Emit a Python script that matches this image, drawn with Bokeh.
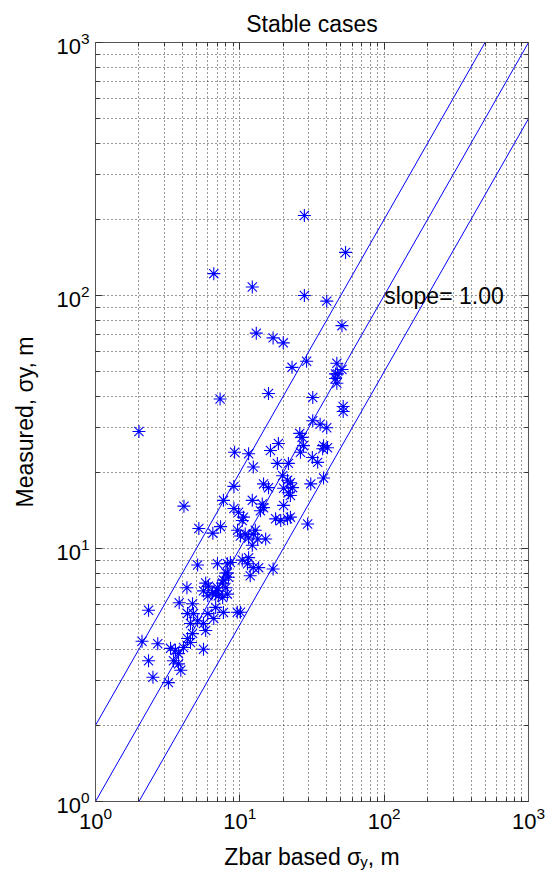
from bokeh.plotting import figure
from bokeh.layouts import column
from bokeh.models import LogAxis, FixedTicker, Label, Range1d
from bokeh.embed import file_html
from bokeh.resources import INLINE

# ---------------- data ----------------
zbar_sigma = [28, 54, 6.6, 12.2, 28, 40, 51, 13, 17, 20, 29, 23, 47, 46, 46, 47,
              15.8, 32, 7.3, 52, 52, 2.0, 32, 36, 40, 26, 27, 9.2, 11.5, 12.4,
              16.3, 18.5, 27.6, 26.3, 31.8, 34.6, 38, 40.5, 37.5, 31, 38, 18.2,
              21.7, 19.8, 21.4, 22.4, 23.2, 21.7, 20.1, 22.4, 15.8, 14.6, 12.2,
              14.3, 14.6, 13.9, 20.1, 9.1, 7.7, 4.1, 17.7, 19.2, 21.4, 22.4, 29.5,
              9.8, 10.6, 10.4, 9.1, 5.2, 6.5, 7.35, 9.64, 10.1, 10.9, 11.5, 12.4,
              12.8, 12.2, 15.1, 13.3, 5.1, 7.0, 8.2, 8.6, 8.2, 8.35, 7.7, 10.4,
              11.3, 11.5, 12.4, 13.5, 11.8, 17, 4.3, 3.8, 4.7, 2.33, 5.8, 6.06,
              5.6, 6.47, 6.8, 6.0, 7.0, 7.6, 7.1, 8.0, 9.6, 2.1, 2.7, 2.33, 2.5,
              3.2, 3.31, 3.58, 3.76, 3.47, 3.9, 3.76, 4.07, 4.34, 4.7, 4.55, 4.55,
              4.34, 4.77, 5.1, 5.6, 5.8, 5.6, 6.0, 6.6, 6.8, 7.7, 7.6, 7.0, 8.2,
              10.1, 8.0, 51, 47.5]
measured_sigma = [207, 148, 122, 108, 100, 95, 76, 71, 68, 65, 55, 52, 54, 49, 47, 45,
                  41, 39.5, 39, 36.4, 34.8, 29, 32, 31, 30, 28.5, 27.5, 24, 23.7, 21,
                  24.4, 26, 25.5, 24, 22.9, 21.9, 25.5, 25, 24.8, 18, 19, 21.7,
                  21.7, 19.4, 18.6, 18.2, 17.4, 16.6, 17.3, 16.2, 17.4, 18, 15.5,
                  15.0, 14.5, 14.1, 14.8, 17.6, 15.5, 14.7, 13.1, 12.9, 13.1, 13.3, 12.5,
                  13.9, 13.3, 12.9, 14.4, 12, 11.5, 12.2, 11.8, 11.2, 11.4, 11.0, 11.4,
                  11.8, 10.3, 10.9, 10.9, 8.6, 8.7, 8.7, 8.8, 8.0, 7.7, 7.5, 9.0,
                  8.7, 9.2, 8.4, 8.4, 7.8, 8.3, 7.0, 6.1, 6.05, 5.7, 7.3, 7.1,
                  6.8, 6.7, 6.6, 6.5, 7.0, 7.3, 6.5, 8.0, 5.6, 4.3, 4.2, 3.6, 3.1,
                  2.95, 4.03, 3.96, 3.84, 3.6, 3.3, 3.5, 4.06, 4.41, 4.61, 4.25, 5.05,
                  5.53, 5.53, 5.18, 5.05, 4.74, 4.0, 5.53, 5.29, 5.85, 5.59, 6.4, 6.8, 6.6,
                  5.6, 7.0, 51, 49]

ratio_lines = [2.0, 1.0, 0.5]          # measured = ratio * zbar
line_x = [1, 1000]
major_ticks = [1, 10, 100, 1000]
slope_text = "slope= 1.00"
slope_pos = (100, 100)
title_text = "Stable cases"
xlabel_parts = ["Zbar based σ", "y", ", m"]
ylabel_text = "Measured, σy, m"

# ---------------- layout ----------------
W, H = 545, 876
XLH = 35                 # x-label strip height
MH = H - XLH             # main figure height
FL, FR, FT, FB = 95, 528, 42, 801     # frame edges in page px
FONT = "Liberation Sans"
FS = 23
SUB = 15

p = figure(width=W, height=MH, x_axis_type="log", y_axis_type="log",
           x_range=Range1d(1, 1000), y_range=Range1d(1, 1000),
           output_backend="svg", toolbar_location=None,
           min_border_left=FL, min_border_right=W - FR,
           min_border_top=FT, min_border_bottom=MH - FB)
p.background_fill_color = "white"
p.border_fill_color = "white"
p.outline_line_color = None
p.title.text = title_text
p.title.align = "center"
p.title.text_font = FONT
p.title.text_font_size = f"{FS}px"
p.title.text_font_style = "normal"
p.title.text_color = "black"
p.title.standoff = 11

p.add_layout(LogAxis(), "above")
p.add_layout(LogAxis(), "right")

minor = [m * 10 ** k for k in range(3) for m in range(2, 10)]
ticker = FixedTicker(ticks=major_ticks, minor_ticks=minor)

for ax in p.axis:
    ax.ticker = ticker
    ax.major_tick_in = 7
    ax.major_tick_out = 0
    ax.minor_tick_in = 4
    ax.minor_tick_out = 0
    ax.axis_line_color = "#555555"
    ax.axis_line_width = 1
    ax.major_tick_line_color = "#333333"
    ax.minor_tick_line_color = "#333333"
    ax.major_label_text_font = FONT
    ax.major_label_text_font_size = "22px"
    ax.major_label_text_color = "black"
for ax in p.above + p.right:
    ax.major_label_overrides = {t: "" for t in major_ticks}
    ax.major_label_text_color = None
    ax.major_label_standoff = 0
p.xaxis[0].major_label_standoff = 6
yax = p.yaxis[0]
yax.major_label_standoff = 6
yax.axis_label = ylabel_text
yax.axis_label_text_font = FONT
yax.axis_label_text_font_size = f"{FS}px"
yax.axis_label_text_font_style = "normal"
yax.axis_label_text_color = "black"
yax.axis_label_standoff = 15

for g in (p.xgrid[0], p.ygrid[0]):
    g.ticker = ticker
    g.grid_line_color = "black"
    g.grid_line_dash = "1 3"
    g.grid_line_alpha = 0.8
    g.minor_grid_line_color = "black"
    g.minor_grid_line_dash = "1 3"
    g.minor_grid_line_alpha = 0.8

for r in ratio_lines:
    p.line(line_x, [r * v for v in line_x], line_color="blue", line_width=1)

p.scatter(zbar_sigma, measured_sigma, marker="asterisk", size=13,
          line_color="blue", line_width=1.1)

p.add_layout(Label(x=slope_pos[0], y=slope_pos[1], text=slope_text,
                   text_font=FONT, text_font_size=f"{FS}px",
                   text_align="left", text_baseline="middle", text_color="black"))

# ---- x label strip with subscript (frame lines up with the main frame) ----
AW = {'Z': .611, 'b': .556, 'a': .556, 'r': .333, ' ': .278, 's': .5, 'e': .556,
      'd': .556, 'σ': .571, ',': .278, 'm': .833, 'y': .5}


def tw(s, f):
    return sum(AW.get(c, .556) for c in s) * f


xl = figure(width=W, height=XLH, x_range=Range1d(FL, FR),
            y_range=Range1d(0, XLH), x_axis_type=None, y_axis_type=None,
            output_backend="svg", toolbar_location=None, min_border=0,
            min_border_left=FL, min_border_right=W - FR)
xl.outline_line_color = None
xl.background_fill_color = "white"
xl.border_fill_color = "white"

sizes = [FS, SUB, FS]
widths = [tw(t, s) for t, s in zip(xlabel_parts, sizes)]
cx = (FL + FR) / 2 - sum(widths) / 2
top = H - XLH
for t, s, w, dy in zip(xlabel_parts, sizes, widths, [0, 5, 0]):
    xl.add_layout(Label(x=cx, y=XLH - (856 + dy - top), text=t, text_font=FONT,
                        text_font_size=f"{s}px", text_align="left",
                        text_baseline="alphabetic", text_color="black"))
    cx += w

layout = column(p, xl, spacing=0)
open("out.html", "w").write(file_html(layout, INLINE))
